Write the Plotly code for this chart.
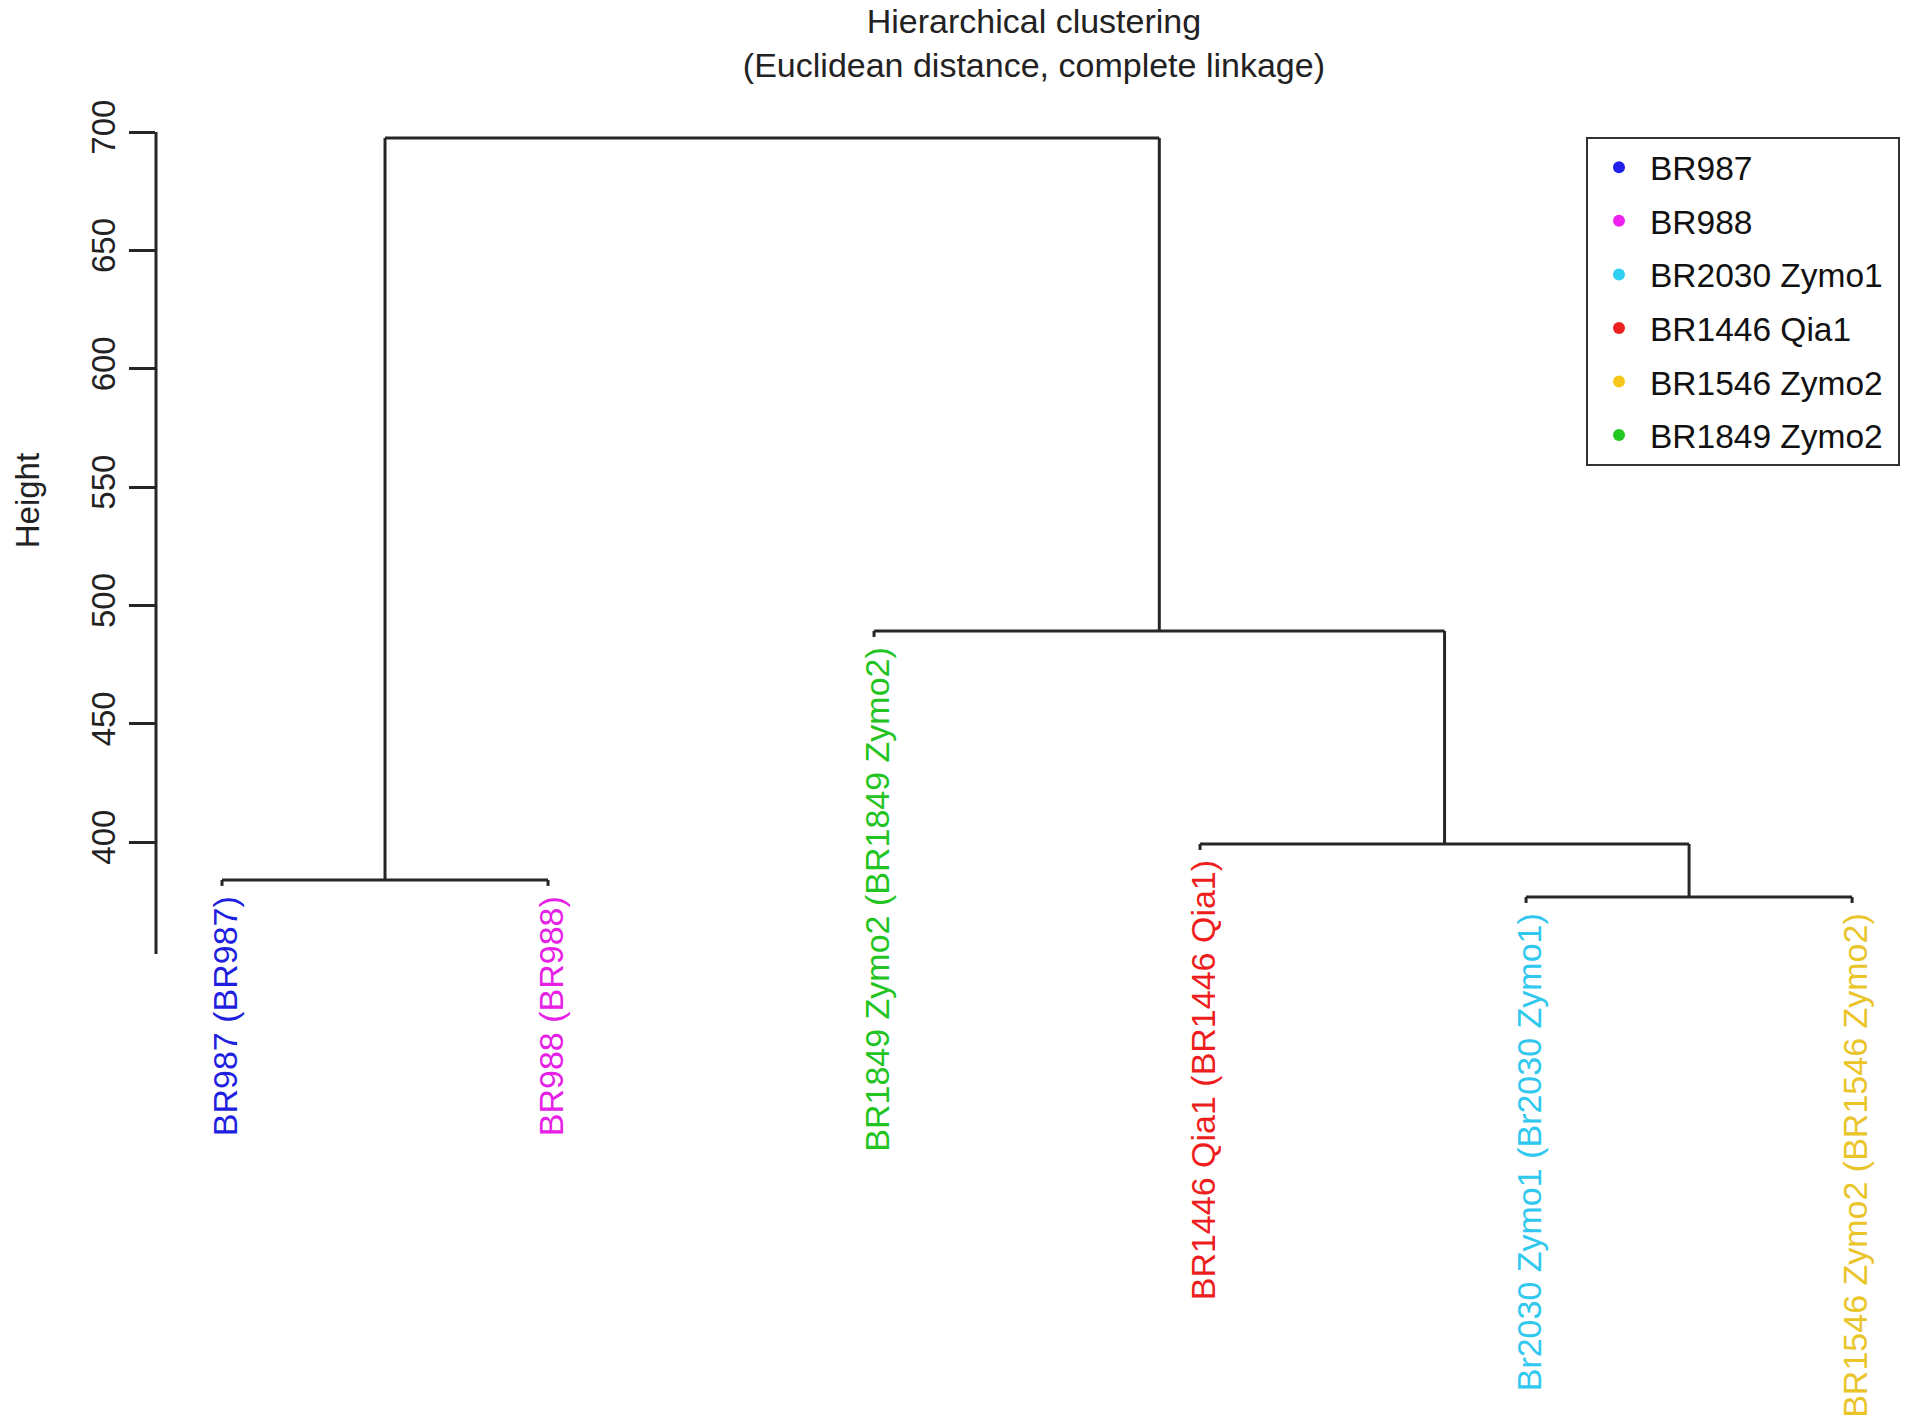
import plotly.graph_objects as go

# ---------------- data ----------------
leaf_labels = [
    "BR987 (BR987)",
    "BR988 (BR988)",
    "BR1849 Zymo2 (BR1849 Zymo2)",
    "BR1446 Qia1 (BR1446 Qia1)",
    "Br2030 Zymo1 (Br2030 Zymo1)",
    "BR1546 Zymo2 (BR1546 Zymo2)",
]
leaf_colors = ["#1f1fe0", "#e620e6", "#22c422", "#ee1e1e", "#30c8ee", "#eac52a"]

# hclust-style merge list: negative = leaf index (1-based, plotting order), positive = earlier merge
merge_left = [-5, -1, -4, -3, 2]
merge_right = [-6, -2, 1, 3, 4]
merge_height = [376.8, 384.0, 399.2, 489.2, 697.5]

legend_names = ["BR987", "BR988", "BR2030 Zymo1", "BR1446 Qia1", "BR1546 Zymo2", "BR1849 Zymo2"]
legend_colors = ["#2020e8", "#ee22ee", "#2fd0f2", "#ee2020", "#f8c71c", "#22c822"]

y_ticks = [400, 450, 500, 550, 600, 650, 700]

# ---------------- styling constants ----------------
FONT = "Liberation Sans, Arial, Helvetica, sans-serif"
FS = 33
LINE_COLOR = "#262626"
LINE_W = 3
HANG = 2.5          # leaf tick length in height units
LABEL_GAP = 3.5     # gap between leaf tip and label
AXIS_BOTTOM = 352.7
YLABEL_Y = 544      # vertical centre of the "Height" label (height units)

# ---------------- dendrogram layout ----------------
node_x = {}
node_h = {}


def child_pos(c):
    if c < 0:
        return float(-c), None
    return node_x[c], node_h[c]


xs, ys = [], []
leaf_tip = {}
for i, (l, r, h) in enumerate(zip(merge_left, merge_right, merge_height), start=1):
    xl, hl = child_pos(l)
    xr, hr = child_pos(r)
    for c, xc, hc in ((l, xl, hl), (r, xr, hr)):
        bottom = hc if hc is not None else h - HANG
        if c < 0:
            leaf_tip[-c] = bottom
        xs += [xc, xc, None]
        ys += [bottom, h, None]
    xs += [xl, xr, None]
    ys += [h, h, None]
    node_x[i] = (xl + xr) / 2
    node_h[i] = h

fig = go.Figure()
fig.add_trace(go.Scatter(x=xs, y=ys, mode="lines",
                         line=dict(color=LINE_COLOR, width=LINE_W),
                         showlegend=False, hoverinfo="skip"))

for name, col in zip(legend_names, legend_colors):
    fig.add_trace(go.Scatter(x=[None], y=[None], mode="markers",
                             name=name + "\u00a0",
                             legendgroup=name,
                             marker=dict(color=col, size=12)))

annotations = []
for idx, (lab, col) in enumerate(zip(leaf_labels, leaf_colors), start=1):
    annotations.append(dict(
        x=idx, y=leaf_tip[idx] - LABEL_GAP, xref="x", yref="y",
        text=lab, showarrow=False, textangle=-90, xshift=3,
        xanchor="center", yanchor="top",
        font=dict(family=FONT, size=34, color=col),
    ))

annotations.append(dict(
    x=0, xref="paper", xshift=-129, y=YLABEL_Y, yref="y",
    text="Height", showarrow=False, textangle=-90,
    xanchor="center", yanchor="middle",
    font=dict(family=FONT, size=FS, color="#222"),
))

shapes = [dict(type="line", xref="paper", yref="y", x0=0, x1=0,
               y0=AXIS_BOTTOM, y1=max(y_ticks),
               line=dict(color=LINE_COLOR, width=LINE_W))]

fig.update_layout(
    width=1913, height=1423,
    margin=dict(l=156, r=13, t=120, b=23, autoexpand=False),
    paper_bgcolor="white", plot_bgcolor="white",
    font=dict(family=FONT, size=FS, color="#222"),
    title=dict(text="Hierarchical clustering<br>(Euclidean distance, complete linkage)",
               x=0.5034, xref="paper", xanchor="center",
               y=0.9768, yref="container", yanchor="top",
               font=dict(family=FONT, size=34, color="#222")),
    xaxis=dict(range=[0.7975, 6.147], visible=False, showgrid=False, zeroline=False),
    yaxis=dict(range=[164.3, 705.1], tickvals=y_ticks, ticktext=[str(v) for v in y_ticks],
               showgrid=False, zeroline=False, showline=False,
               ticks="outside", ticklen=26, tickwidth=LINE_W, tickcolor=LINE_COLOR,
               tickangle=-90, ticklabelstandoff=1,
               tickfont=dict(family=FONT, size=FS, color="#222")),
    legend=dict(x=1, xanchor="right", y=0.9867, yanchor="top",
                bordercolor="#333", borderwidth=2, bgcolor="white",
                font=dict(family=FONT, size=33.5, color="#111"),
                tracegroupgap=7, itemwidth=52),
    annotations=annotations,
    shapes=shapes,
    showlegend=True,
)

fig.write_html("out.html", config={"displayModeBar": False},
               post_script="document.body.style.margin='0px';")
